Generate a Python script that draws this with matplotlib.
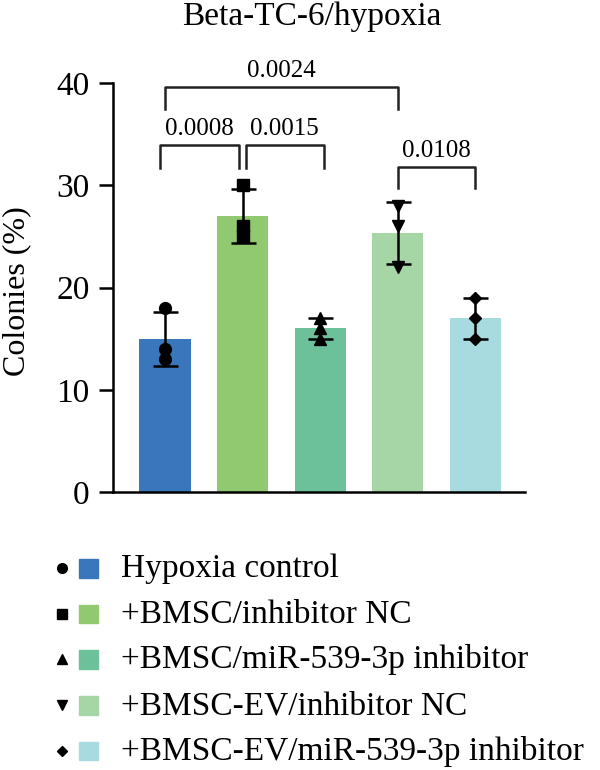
import numpy as np
import matplotlib.pyplot as plt

plt.rcParams['font.family'] = ['Liberation Serif', 'DejaVu Serif']

groups = ['Hypoxia control', '+BMSC/inhibitor NC', '+BMSC/miR-539-3p inhibitor',
          '+BMSC-EV/inhibitor NC', '+BMSC-EV/miR-539-3p inhibitor']
colors = ['#3a76bc', '#90c970', '#6cc19a', '#a6d5a6', '#a7dbe0']
markers = ['o', 's', '^', 'v', 'D']

# three replicates per group
rep_points = [
    [18, 14, 13],
    [30, 26, 25],
    [17, 16, 15],
    [28, 26, 22],
    [19, 17, 15],
]

# significance brackets: (left group, right group, p text, top, leg bottom)
brackets = [
    (0, 3, '0.0024', 39.6, 37.5),
    (0, 1, '0.0008', 33.9, 31.7),
    (1, 2, '0.0015', 33.9, 31.7),
    (3, 4, '0.0108', 31.8, 29.7),
]
br_offsets = {(0, 3): (0.0, 0.0), (0, 1): (-0.06, -0.05),
              (1, 2): (0.04, 0.05), (3, 4): (0.0, 0.0)}

means = [np.mean(p) for p in rep_points]
sds = [np.std(p, ddof=1) for p in rep_points]
x = np.arange(len(groups))

fig = plt.figure(figsize=(6, 7.7), dpi=100)
ax = fig.add_axes([113 / 600, 1 - 492 / 770, (525 - 113) / 600, (492 - 83) / 770])

ax.bar(x, means, width=0.66, color=colors, edgecolor='none', zorder=1)
for i in range(len(groups)):
    ax.errorbar(x[i], means[i], yerr=sds[i], color='black', capsize=9,
                capthick=1.8, elinewidth=1.8, zorder=3)
    ax.plot([x[i]] * len(rep_points[i]), rep_points[i], linestyle='none',
            marker=markers[i], color='black', markersize=8.5 if markers[i] != 'D' else 6.5,
            zorder=4)

for a, b, txt, top, bot in brackets:
    oa, ob = br_offsets[(a, b)]
    xa, xb = x[a] + oa, x[b] + ob
    ax.plot([xa, xa, xb, xb], [bot, top, top, bot], color='#222222', lw=1.8,
            clip_on=False, zorder=2)
    ax.text((xa + xb) / 2, top + 1.0, txt, ha='center', va='baseline', fontsize=18)

ax.set_ylim(0, 40)
ax.set_xlim(-0.67, 4.64)
ax.set_yticks([0, 10, 20, 30, 40])
ax.set_xticks([])
ax.tick_params(axis='y', labelsize=24, width=1.8, length=10, pad=7)
for s in ['top', 'right']:
    ax.spines[s].set_visible(False)
for s in ['left', 'bottom']:
    ax.spines[s].set_linewidth(1.8)
ax.set_ylabel('Colonies (%)', fontsize=23)
ax.yaxis.set_label_coords((31 - 113) / 412, 0.49)
fig.text(312 / 600, 1 - 25 / 770, 'Beta-TC-6/hypoxia', ha='center', va='baseline', fontsize=24)

# manual legend
lg = fig.add_axes([0, 0, 1, 1 - 535 / 770])
lg.set_xlim(0, 600)
lg.set_ylim(235, 0)
lg.axis('off')
for i, name in enumerate(groups):
    yy = 33 + 45.7 * i
    lg.plot(62, yy, marker=markers[i], color='black',
            markersize=7 if markers[i] != 'D' else 5.5, linestyle='none')
    lg.add_patch(plt.Rectangle((79, yy - 9), 18.5, 18.5, color=colors[i]))
    lg.text(121, yy + 9, name, ha='left', va='baseline', fontsize=24)

fig.savefig('out.png', dpi=100)
